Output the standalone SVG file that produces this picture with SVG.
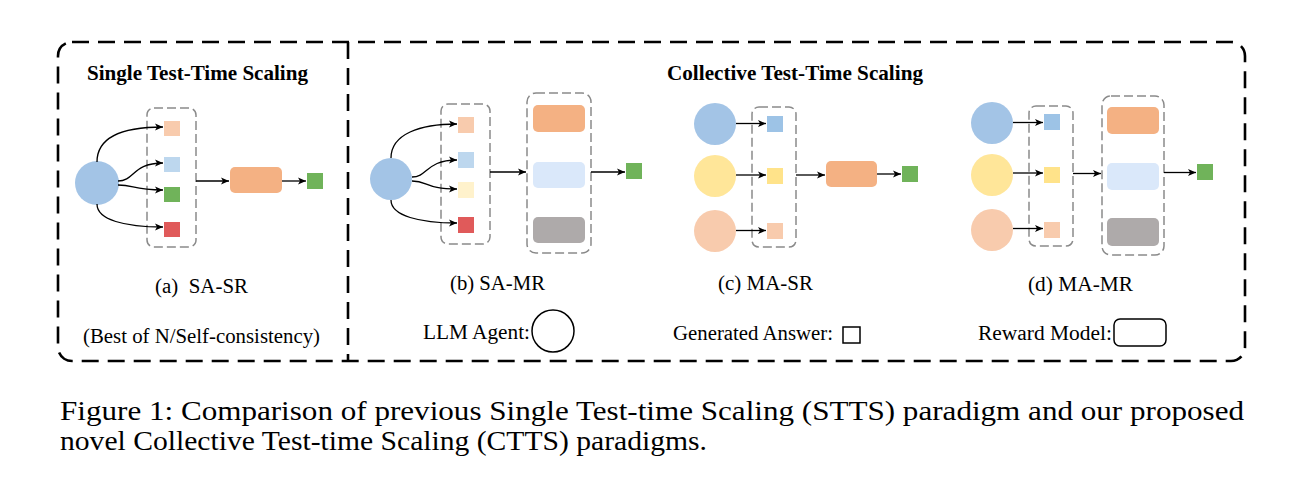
<svg xmlns="http://www.w3.org/2000/svg" width="1303" height="491" viewBox="0 0 1303 491">
<style>
.t{font-family:"Liberation Serif","Times New Roman",serif;fill:#000}
.lbl{font-size:20.5px}
.ttl{font-size:21px;font-weight:bold}
.cap{font-size:28px}
.grp{fill:none;stroke:#8a8a8a;stroke-width:1.5;stroke-dasharray:9 4}
.ar{fill:none;stroke:#000;stroke-width:1.3;marker-end:url(#ah)}
.leg{fill:#fff;stroke:#000;stroke-width:1.5}
</style>
<defs>
<marker id="ah" markerUnits="userSpaceOnUse" markerWidth="9" markerHeight="8" refX="8" refY="4" orient="auto">
<path d="M0,0.5 L8,4 L0,7.5 L2,4 z" fill="#000"/>
</marker>
</defs>
<rect width="1303" height="491" fill="#fff"/>

<g id="frame">
<rect x="58" y="42" width="1187" height="319" rx="14" fill="none" stroke="#000" stroke-width="2.6" stroke-dasharray="17 9"/>
<line x1="348" y1="42" x2="348" y2="361" stroke="#000" stroke-width="2.6" stroke-dasharray="17 9"/>
</g>

<g id="titles">
<text class="t ttl" x="87" y="80" textLength="221" lengthAdjust="spacingAndGlyphs">Single Test-Time Scaling</text>
<text class="t ttl" x="667" y="80" textLength="256" lengthAdjust="spacingAndGlyphs">Collective Test-Time Scaling</text>
</g>

<!-- (a) SA-SR -->
<g id="a-agent"><circle cx="97" cy="183" r="22" fill="#A3C4E6"/></g>
<g id="a-answers">
<rect class="grp" x="147" y="108" width="49" height="139" rx="7"/>
<rect x="164" y="121" width="16" height="15" fill="#F8CBAD"/>
<rect x="164" y="157" width="16" height="15" fill="#BDD7EE"/>
<rect x="164" y="187" width="16" height="15" fill="#70B35A"/>
<rect x="164" y="222" width="16" height="15" fill="#E05A5A"/>
</g>
<g id="a-rm"><rect x="230" y="167" width="52" height="26" rx="5" fill="#F4B183"/></g>
<g id="a-out"><rect x="307" y="173" width="16" height="16" fill="#70B35A"/></g>
<text class="t lbl" x="155" y="293" xml:space="preserve" textLength="93" lengthAdjust="spacingAndGlyphs">(a)  SA-SR</text>
<text class="t lbl" x="83" y="343" textLength="237" lengthAdjust="spacingAndGlyphs">(Best of N/Self-consistency)</text>

<!-- (b) SA-MR -->
<g id="b-agent"><circle cx="391" cy="179" r="21" fill="#A3C4E6"/></g>
<g id="b-answers">
<rect class="grp" x="441" y="104" width="49" height="140" rx="7"/>
<rect x="458" y="117" width="16" height="16" fill="#F8CBAD"/>
<rect x="458" y="152" width="16" height="16" fill="#BDD7EE"/>
<rect x="458" y="182" width="16" height="16" fill="#FFF2CC"/>
<rect x="458" y="217" width="16" height="16" fill="#E05A5A"/>
</g>
<g id="b-rms">
<rect class="grp" x="527" y="93" width="64" height="160" rx="9"/>
<rect x="533" y="105" width="52" height="27" rx="5" fill="#F4B183"/>
<rect x="533" y="162" width="52" height="26" rx="5" fill="#DAE8FA"/>
<rect x="533" y="217" width="52" height="26" rx="5" fill="#AEAAAA"/>
</g>
<g id="b-out"><rect x="626" y="163" width="16" height="16" fill="#70B35A"/></g>
<text class="t lbl" x="450" y="290" textLength="95" lengthAdjust="spacingAndGlyphs">(b) SA-MR</text>

<!-- (c) MA-SR -->
<g id="c-agents">
<circle cx="715" cy="124" r="21" fill="#A3C4E6"/>
<circle cx="715" cy="176" r="21" fill="#FFE699"/>
<circle cx="715" cy="231" r="21" fill="#F8CBAD"/>
</g>
<g id="c-answers">
<rect class="grp" x="752" y="107" width="44" height="140" rx="7"/>
<rect x="767" y="116" width="16" height="16" fill="#9DC3E6"/>
<rect x="767" y="168" width="16" height="16" fill="#FFE38A"/>
<rect x="767" y="223" width="16" height="16" fill="#F8CBAD"/>
</g>
<g id="c-rm"><rect x="826" y="161" width="51" height="26" rx="5" fill="#F4B183"/></g>
<g id="c-out"><rect x="902" y="166" width="16" height="16" fill="#70B35A"/></g>
<text class="t lbl" x="718" y="290" textLength="95" lengthAdjust="spacingAndGlyphs">(c) MA-SR</text>

<!-- (d) MA-MR -->
<g id="d-agents">
<circle cx="992" cy="123" r="21" fill="#A3C4E6"/>
<circle cx="992" cy="175" r="21" fill="#FFE699"/>
<circle cx="992" cy="230" r="21" fill="#F8CBAD"/>
</g>
<g id="d-answers">
<rect class="grp" x="1029" y="106" width="44" height="140" rx="7"/>
<rect x="1044" y="114" width="16" height="16" fill="#9DC3E6"/>
<rect x="1044" y="167" width="16" height="16" fill="#FFE38A"/>
<rect x="1044" y="222" width="16" height="16" fill="#F8CBAD"/>
</g>
<g id="d-rms">
<rect class="grp" x="1102" y="96" width="62" height="159" rx="9"/>
<rect x="1107" y="107" width="52" height="27" rx="5" fill="#F4B183"/>
<rect x="1107" y="163" width="52" height="27" rx="5" fill="#DAE8FA"/>
<rect x="1107" y="218" width="52" height="28" rx="5" fill="#AEAAAA"/>
</g>
<g id="d-out"><rect x="1197" y="164" width="16" height="16" fill="#70B35A"/></g>
<text class="t lbl" x="1028" y="291" textLength="105" lengthAdjust="spacingAndGlyphs">(d) MA-MR</text>

<!-- legend -->
<g id="legend-agent">
<text class="t lbl" x="423" y="339" textLength="107" lengthAdjust="spacingAndGlyphs">LLM Agent:</text>
<circle class="leg" cx="553" cy="331" r="21"/>
</g>
<g id="legend-answer">
<text class="t lbl" x="673" y="340" textLength="160" lengthAdjust="spacingAndGlyphs">Generated Answer:</text>
<rect class="leg" x="843" y="327" width="17" height="16"/>
</g>
<g id="legend-rm">
<text class="t lbl" x="978" y="340" textLength="134" lengthAdjust="spacingAndGlyphs">Reward Model:</text>
<rect class="leg" x="1114" y="319" width="52" height="27" rx="6"/>
</g>

<g id="connectors">
<!-- a -->
<path class="ar" d="M97,162 C97,136 125,127 163,127"/>
<path class="ar" d="M118,181 C135,181 132,163 163,163"/>
<path class="ar" d="M118,185 C135,185 132,190 163,190"/>
<path class="ar" d="M97,204 C97,220 125,227 163,227"/>
<path class="ar" d="M196,181 L229,181"/>
<path class="ar" d="M282,181 L306,181"/>
<!-- b -->
<path class="ar" d="M391,158 C391,134 420,124 457,124"/>
<path class="ar" d="M412,177 C428,177 426,160 457,160"/>
<path class="ar" d="M412,181 C428,181 426,189 457,189"/>
<path class="ar" d="M391,200 C391,216 420,223 457,223"/>
<path class="ar" d="M490,172 L526,172"/>
<path class="ar" d="M591,172 L625,172"/>
<!-- c -->
<path class="ar" d="M736,123.5 L766,123.5"/>
<path class="ar" d="M736,175 L766,175"/>
<path class="ar" d="M736,230.5 L766,230.5"/>
<path class="ar" d="M796,175 L825,175"/>
<path class="ar" d="M877,174 L901,174"/>
<!-- d -->
<path class="ar" d="M1013,122.5 L1043,122.5"/>
<path class="ar" d="M1013,173 L1043,173"/>
<path class="ar" d="M1013,228.5 L1043,228.5"/>
<path class="ar" d="M1073,173.5 L1101,173.5"/>
<path class="ar" d="M1164,172.5 L1196,172.5"/>
</g>

<g id="caption">
<text class="t cap" x="60" y="420" textLength="1184" lengthAdjust="spacingAndGlyphs">Figure 1: Comparison of previous Single Test-time Scaling (STTS) paradigm and our proposed</text>
<text class="t cap" x="60" y="450" textLength="647" lengthAdjust="spacingAndGlyphs">novel Collective Test-time Scaling (CTTS) paradigms.</text>
</g>
</svg>
